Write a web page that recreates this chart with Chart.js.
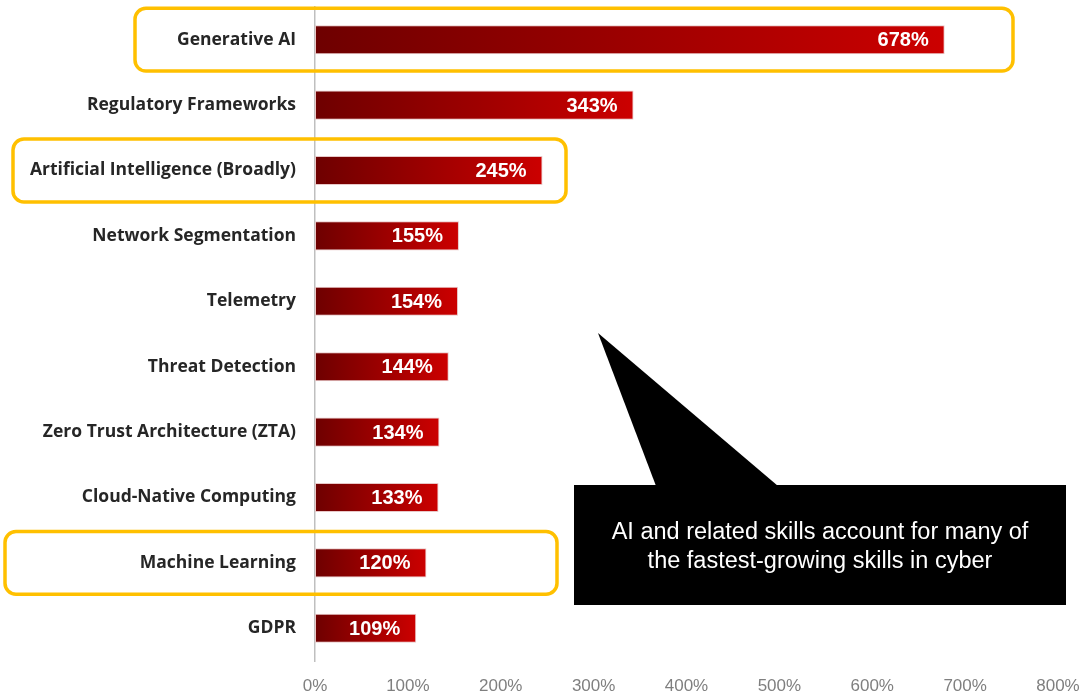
<!DOCTYPE html>
<html>
<head>
<meta charset="utf-8">
<script src="https://cdn.jsdelivr.net/npm/chart.js@4.4.1/dist/chart.umd.min.js"></script>
<style>
  html, body { margin: 0; padding: 0; background: #fff; }
  #wrap { width: 1087px; height: 698px; position: relative; }
</style>
</head>
<body>
<div id="wrap"><canvas id="chart"></canvas></div>
<script>
// Daten
const skills = [
  "Generative AI",
  "Regulatory Frameworks",
  "Artificial Intelligence (Broadly)",
  "Network Segmentation",
  "Telemetry",
  "Threat Detection",
  "Zero Trust Architecture (ZTA)",
  "Cloud-Native Computing",
  "Machine Learning",
  "GDPR",
];
const growth = [678, 343, 245, 155, 154, 144, 134, 133, 120, 109];
const xTicks = [0, 100, 200, 300, 400, 500, 600, 700, 800];

// Hervorgehobene Zeilen (Index, linker Rand, rechter Rand)
const highlights = [
  { idx: 0, left: 135, right: 1013 },
  { idx: 2, left: 13, right: 566 },
  { idx: 8, left: 5, right: 557 },
];
const calloutLines = [
  "AI and related skills account for many of",
  "the fastest-growing skills in cyber",
];

// Verlauf pro Balken: dunkelrot -> rot
function barGradient(context) {
  const chart = context.chart;
  if (!chart.chartArea) return "#a00000";
  const xs = chart.scales.x;
  const x0 = xs.getPixelForValue(0);
  const x1 = xs.getPixelForValue(context.raw);
  const g = chart.ctx.createLinearGradient(x0, 0, x1, 0);
  g.addColorStop(0, "#6e0000");
  g.addColorStop(1, "#cc0000");
  return g;
}

// Werte-Beschriftungen in den Balken
const valueLabels = {
  id: "valueLabels",
  afterDatasetsDraw(chart) {
    const ctx = chart.ctx;
    const meta = chart.getDatasetMeta(0);
    ctx.save();
    ctx.fillStyle = "#fff";
    ctx.font = "bold 20px 'Liberation Sans', Arial, sans-serif";
    ctx.textAlign = "right";
    ctx.textBaseline = "middle";
    meta.data.forEach((bar, i) => {
      ctx.fillText(growth[i] + "%", bar.x - 16, bar.y + 1);
    });
    ctx.restore();
  },
};

// Gelbe Rahmen + schwarze Sprechblase
const overlays = {
  id: "overlays",
  afterDraw(chart) {
    const ctx = chart.ctx;
    const ys = chart.scales.y;
    const band = ys.getPixelForValue(1) - ys.getPixelForValue(0);

    ctx.save();
    ctx.strokeStyle = "#ffc000";
    ctx.lineWidth = 3.5;
    highlights.forEach((h) => {
      const cy = ys.getPixelForValue(h.idx);
      const top = cy - band * 0.48;
      const bottom = cy + band * 0.48;
      ctx.beginPath();
      ctx.roundRect(h.left, top, h.right - h.left, bottom - top, 11);
      ctx.stroke();
    });

    // Sprechblase
    ctx.fillStyle = "#000";
    ctx.beginPath();
    ctx.moveTo(598, 333);
    ctx.lineTo(778, 486);
    ctx.lineTo(656, 486);
    ctx.closePath();
    ctx.fill();
    ctx.fillRect(574, 485, 492, 120);

    ctx.fillStyle = "#fff";
    ctx.font = "23.5px 'Liberation Sans', Arial, sans-serif";
    ctx.textAlign = "center";
    ctx.textBaseline = "middle";
    ctx.fillText(calloutLines[0], 820, 533);
    ctx.fillText(calloutLines[1], 820, 562);
    ctx.restore();
  },
};

const ctx = document.getElementById("chart").getContext("2d");
new Chart(ctx, {
  type: "bar",
  data: {
    labels: skills,
    datasets: [
      {
        data: growth,
        backgroundColor: barGradient,
        borderColor: "#e8c8c8",
        borderWidth: 1,
        borderSkipped: false,
        categoryPercentage: 1,
        barPercentage: 0.445,
      },
    ],
  },
  options: {
    indexAxis: "y",
    responsive: true,
    maintainAspectRatio: false,
    animation: false,
    layout: { autoPadding: false, padding: { top: 7, right: 29, left: 0, bottom: 0 } },
    plugins: {
      legend: { display: false },
      tooltip: { enabled: false },
    },
    scales: {
      x: {
        min: 0,
        max: 800,
        afterBuildTicks: (scale) => {
          scale.ticks = xTicks.map((v) => ({ value: v }));
        },
        grid: { display: false, drawTicks: false },
        border: { display: false },
        ticks: {
          color: "#7f7f7f",
          padding: 15,
          font: { size: 17, family: "'Liberation Sans Narrow', 'Liberation Sans', Arial, sans-serif" },
          callback: (v) => v + "%",
        },
        afterFit: (scale) => {
          scale.height = 37;
          scale.paddingTop = 0;
          scale.paddingBottom = 0;
          scale.paddingLeft = 0;
          scale.paddingRight = 0;
        },
      },
      y: {
        grid: { display: false, drawTicks: false },
        border: { display: true, color: "#bfbfbf", width: 1.5 },
        ticks: {
          color: "#262626",
          padding: 19,
          font: { size: 17.5, weight: "bold", family: "'Open Sans', 'Liberation Sans', sans-serif" },
        },
        afterFit: (scale) => {
          scale.width = 315;
          scale.paddingTop = 0;
          scale.paddingBottom = 0;
        },
      },
    },
  },
  plugins: [valueLabels, overlays],
});
</script>
</body>
</html>
